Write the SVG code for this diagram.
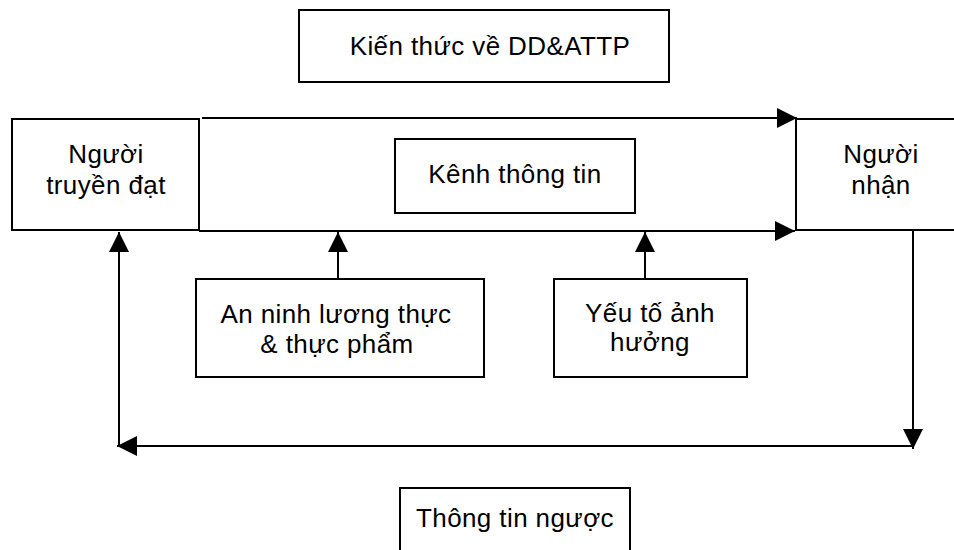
<svg xmlns="http://www.w3.org/2000/svg" width="954" height="550" viewBox="0 0 954 550">
  <defs>
    <marker id="arrow" markerUnits="userSpaceOnUse" markerWidth="20" markerHeight="20" refX="20" refY="10" orient="auto">
      <path d="M0,0 L20,10 L0,20 z" fill="#000"/>
    </marker>
  </defs>
  <style>
    .box { fill: #fff; stroke: #000; stroke-width: 2; }
    .open { fill: none; stroke: #000; stroke-width: 2; }
    .link { fill: none; stroke: #000; stroke-width: 2; marker-end: url(#arrow); }
    text { font-family: "Liberation Sans", Arial, sans-serif; font-size: 26px; letter-spacing: 0.4px; fill: #000; text-anchor: middle; }
  </style>
  <rect width="954" height="550" fill="#fff"/>

  <!-- connectors -->
  <g id="connectors">
    <line class="link" x1="202" y1="118" x2="797" y2="118"/>
    <line class="link" x1="199" y1="231" x2="795" y2="231"/>
    <line class="link" x1="338" y1="279" x2="338" y2="232"/>
    <line class="link" x1="645" y1="279" x2="645" y2="232"/>
    <line class="link" x1="913" y1="231" x2="913" y2="449"/>
    <line class="link" x1="914" y1="446" x2="117" y2="446"/>
    <line class="link" x1="119" y1="447" x2="119" y2="232"/>
  </g>

  <g id="kien-thuc">
    <rect class="box" x="299" y="10" width="370" height="72"/>
    <text x="490" y="55">Kiến thức về DD&amp;ATTP</text>
  </g>

  <g id="nguoi-truyen-dat">
    <rect class="box" x="12" y="119" width="187" height="111"/>
    <text x="106" y="163">Người</text>
    <text x="106" y="194">truyền đạt</text>
  </g>

  <g id="kenh-thong-tin">
    <rect class="box" x="395" y="139" width="240" height="74"/>
    <text x="515" y="183">Kênh thông tin</text>
  </g>

  <g id="nguoi-nhan">
    <path class="open" d="M954,119 H796 V230 H954"/>
    <text x="881" y="163">Người</text>
    <text x="881" y="194">nhận</text>
  </g>

  <g id="an-ninh">
    <rect class="box" x="196" y="279" width="288" height="98"/>
    <text x="336" y="323">An ninh lương thực</text>
    <text x="337" y="353">&amp; thực phẩm</text>
  </g>

  <g id="yeu-to">
    <rect class="box" x="554" y="279" width="193" height="98"/>
    <text x="650" y="322">Yếu tố ảnh</text>
    <text x="650" y="351">hưởng</text>
  </g>

  <g id="thong-tin-nguoc">
    <path class="open" d="M400,551 V488 H630 V551"/>
    <text x="515" y="527">Thông tin ngược</text>
  </g>
</svg>
